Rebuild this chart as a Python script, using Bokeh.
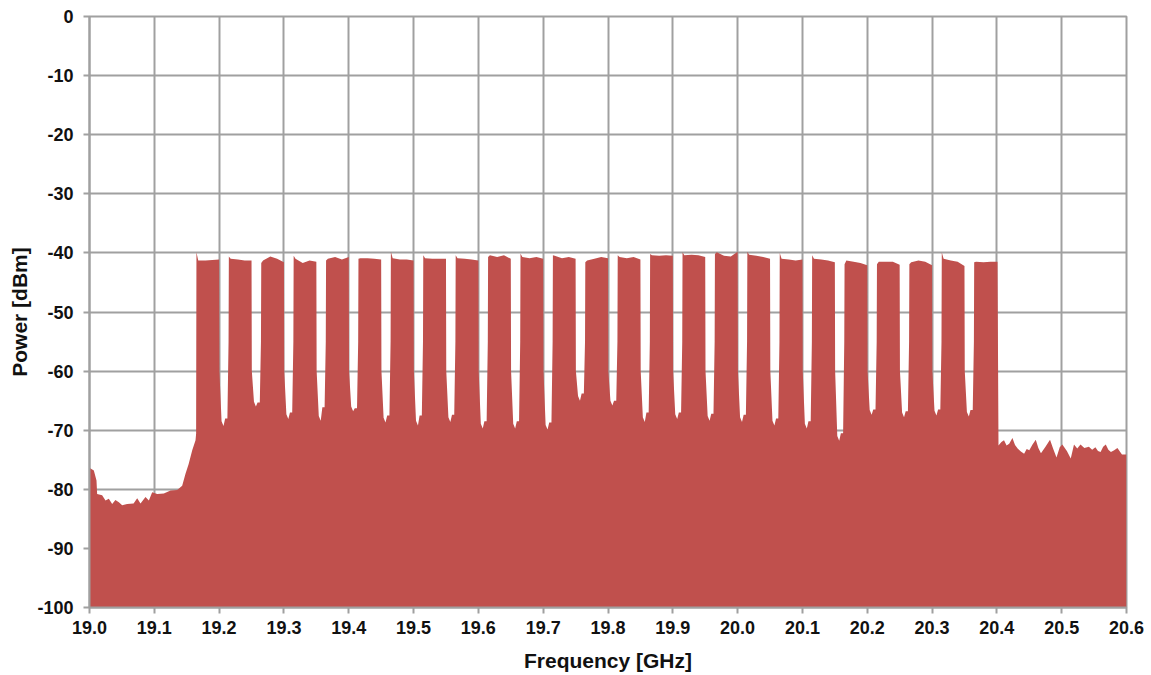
import numpy as np
from bokeh.plotting import figure
from bokeh.models import Range1d, FixedTicker
from bokeh.embed import file_html
from bokeh.resources import INLINE

# ---------------- data ----------------
x_ticks = [19.0, 19.1, 19.2, 19.3, 19.4, 19.5, 19.6, 19.7, 19.8,
           19.9, 20.0, 20.1, 20.2, 20.3, 20.4, 20.5, 20.6]
x_tick_labels = ["19.0", "19.1", "19.2", "19.3", "19.4", "19.5", "19.6", "19.7", "19.8",
                 "19.9", "20.0", "20.1", "20.2", "20.3", "20.4", "20.5", "20.6"]
y_ticks = [0, -10, -20, -30, -40, -50, -60, -70, -80, -90, -100]
y_tick_labels = ["0", "-10", "-20", "-30", "-40", "-50", "-60", "-70", "-80", "-90", "-100"]

# out-of-band noise below the carriers (GHz, dBm)
low_freq = [19.0, 19.0005, 19.0067, 19.0108, 19.0118, 19.0195, 19.0247, 19.0298, 19.035,
            19.040, 19.0453, 19.0504, 19.058, 19.068, 19.0736, 19.0787, 19.0864, 19.0916,
            19.0967, 19.1045, 19.1147, 19.125, 19.1353, 19.143, 19.148, 19.153, 19.1585,
            19.1636, 19.1645]
low_pow = [-76.4, -76.4, -76.8, -78.5, -80.8, -81.0, -81.9, -81.6, -82.5,
           -81.8, -82.2, -82.7, -82.5, -82.4, -81.5, -82.4, -81.3, -81.9,
           -80.5, -80.8, -80.7, -80.2, -80.1, -79.4, -77.4, -75.7, -73.4,
           -71.7, -70.6]

# carriers: lower / upper band edge (GHz)
carrier_lo = [19.165, 19.215, 19.265, 19.315, 19.365, 19.415, 19.465, 19.515, 19.565,
              19.615, 19.665, 19.715, 19.765, 19.815, 19.865, 19.915, 19.965, 20.015,
              20.065, 20.115, 20.165, 20.215, 20.265, 20.315, 20.365]
carrier_hi = [19.200, 19.250, 19.300, 19.350, 19.400, 19.450, 19.500, 19.550, 19.600,
              19.650, 19.700, 19.750, 19.800, 19.850, 19.900, 19.950, 20.000, 20.050,
              20.100, 20.150, 20.200, 20.250, 20.300, 20.350, 20.401]
# in-band power profile of each carrier (dBm), left edge -> right edge
carrier_top = [
    [-39.9, -41.3, -41.3, -41.2, -41.1],
    [-40.6, -41.0, -41.1, -41.3, -41.3],
    [-41.7, -41.3, -40.6, -41.0, -41.6],
    [-40.5, -41.0, -41.7, -41.3, -41.5],
    [-41.3, -41.0, -40.7, -41.1, -40.7],
    [-41.0, -40.9, -40.9, -41.0, -41.1],
    [-39.8, -40.9, -41.1, -41.1, -41.3],
    [-40.4, -40.9, -41.0, -41.0, -41.0],
    [-40.4, -40.9, -41.0, -41.1, -41.3],
    [-40.7, -40.4, -40.7, -40.4, -41.0],
    [-40.1, -40.7, -40.9, -40.7, -41.0],
    [-40.4, -40.5, -40.9, -40.7, -41.0],
    [-41.6, -41.3, -41.0, -40.7, -40.9],
    [-40.4, -40.7, -40.9, -40.7, -41.1],
    [-40.2, -40.4, -40.5, -40.4, -40.5],
    [-39.9, -40.4, -40.3, -40.4, -40.7],
    [-40.2, -39.9, -40.5, -40.6, -39.8],
    [-39.8, -40.3, -40.5, -40.7, -41.0],
    [-40.0, -41.0, -41.1, -41.3, -41.1],
    [-40.4, -41.0, -41.1, -41.3, -41.6],
    [-41.9, -41.3, -41.5, -41.7, -42.1],
    [-41.9, -41.5, -41.5, -41.5, -42.0],
    [-41.9, -41.6, -41.3, -41.5, -42.1],
    [-39.9, -41.0, -41.3, -41.5, -42.2],
    [-41.6, -41.5, -41.6, -41.5, -41.5],
]
# deepest point and shoulder level in each gap between carriers (dBm)
gap_floor = [-69.3, -66.0, -68.1, -68.4, -66.8, -68.7, -69.2, -68.6, -69.7, -69.7, -69.9, -65.0,
             -65.8, -68.6, -68.1, -68.4, -68.6, -69.2, -69.7, -71.8, -67.4, -67.8, -67.5, -67.7]
gap_shoulder = [-68.0, -65.3, -67.0, -66.1, -66.3, -67.5, -67.5, -67.4, -68.5, -68.5, -68.7, -63.8,
                -65.0, -67.0, -67.0, -67.2, -67.4, -68.0, -68.5, -70.5, -66.5, -66.8, -66.5, -66.6]

# out-of-band noise above the carriers (GHz, dBm)
high_freq = [20.4025, 20.407, 20.411, 20.415, 20.419, 20.424, 20.428, 20.432, 20.437, 20.442,
             20.446, 20.450, 20.455, 20.460, 20.464, 20.468, 20.475, 20.482, 20.487, 20.492,
             20.497, 20.501, 20.508, 20.514, 20.519, 20.524, 20.529, 20.535, 20.542, 20.547,
             20.552, 20.556, 20.560, 20.564, 20.568, 20.572, 20.576, 20.581, 20.586, 20.593,
             20.600]
high_pow = [-72.6, -72.0, -71.7, -72.6, -72.3, -71.3, -72.5, -73.1, -73.6, -74.0,
            -73.2, -73.4, -72.4, -71.6, -73.0, -73.9, -72.8, -71.6, -73.2, -74.6,
            -72.9, -72.4, -73.5, -74.8, -72.4, -73.1, -72.4, -73.0, -72.8, -73.3,
            -72.9, -73.5, -73.7, -72.8, -72.4, -73.3, -73.7, -73.4, -73.0, -74.1,
            -74.1]

FREQ_RANGE = (19.0, 20.6)
POWER_RANGE = (-100, 0)

# ---------------- build the spectrum trace ----------------
top_frac = [0.0, 0.08, 0.4, 0.7, 1.0]
xs, ys = list(low_freq), list(low_pow)
n = len(carrier_lo)
for k in range(n):
    lo, hi = carrier_lo[k], carrier_hi[k]
    for f, v in zip(top_frac, carrier_top[k]):
        xs.append(lo + f * (hi - lo))
        ys.append(v)
    if k < n - 1:
        nlo = carrier_lo[k + 1]
        g = nlo - hi
        xs += [hi + 0.03 * g, hi + 0.25 * g, hi + 0.45 * g, hi + 0.62 * g,
               hi + 0.85 * g, hi + 0.97 * g]
        ys += [-60.0, gap_floor[k] + 0.8, gap_floor[k], gap_shoulder[k],
               gap_shoulder[k], -55.0]
xs += high_freq
ys += high_pow

# ---------------- figure ----------------
p = figure(width=1151, height=675, output_backend="svg", toolbar_location=None,
           x_range=Range1d(*FREQ_RANGE), y_range=Range1d(*POWER_RANGE),
           min_border_left=89, min_border_right=25, min_border_top=16, min_border_bottom=68)

p.varea(x=xs, y1=POWER_RANGE[0], y2=ys, fill_color="#C0504D", fill_alpha=1.0)

GRID = "#A0A0A0"
p.xaxis.ticker = FixedTicker(ticks=x_ticks)
p.yaxis.ticker = FixedTicker(ticks=y_ticks)
p.xgrid.ticker = FixedTicker(ticks=x_ticks)
p.ygrid.ticker = FixedTicker(ticks=y_ticks)
p.xaxis.major_label_overrides = dict(zip(x_ticks, x_tick_labels))
p.yaxis.major_label_overrides = dict(zip(y_ticks, y_tick_labels))
for g in (p.xgrid, p.ygrid):
    g.grid_line_color = GRID
    g.grid_line_width = 2
p.outline_line_color = GRID
p.outline_line_width = 2

for ax in (p.xaxis, p.yaxis):
    ax.axis_line_color = GRID
    ax.axis_line_width = 2
    ax.major_tick_line_color = GRID
    ax.major_tick_line_width = 2
    ax.major_tick_in = 0
    ax.major_tick_out = 6
    ax.minor_tick_line_color = None
    ax.major_label_text_font = "Liberation Sans"
    ax.major_label_text_font_style = "bold"
    ax.major_label_text_font_size = "18px"
    ax.major_label_text_color = "#111111"
    ax.axis_label_text_font = "Liberation Sans"
    ax.axis_label_text_font_style = "bold"
    ax.axis_label_text_font_size = "21px"
    ax.axis_label_text_color = "#111111"

p.xaxis.axis_label = "Frequency [GHz]"
p.yaxis.axis_label = "Power [dBm]"
p.xaxis.major_label_standoff = 7
p.yaxis.major_label_standoff = 10
p.xaxis.axis_label_standoff = 12
p.yaxis.axis_label_standoff = 3
p.background_fill_color = "white"
p.border_fill_color = "white"

open("out.html", "w").write(file_html(p, INLINE))
